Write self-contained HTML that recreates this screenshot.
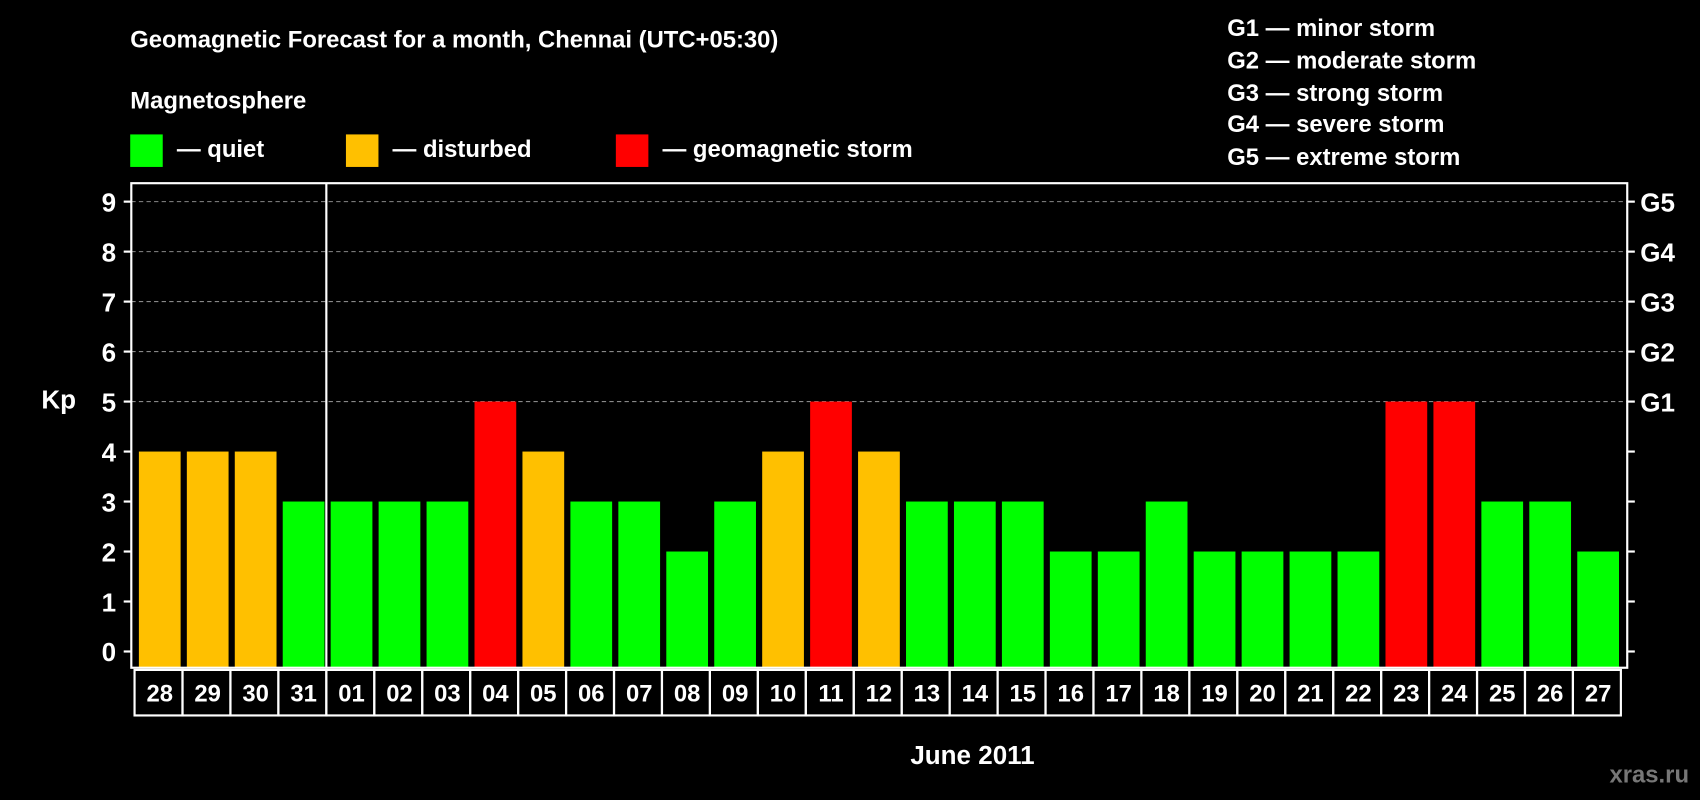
<!DOCTYPE html>
<html><head><meta charset="utf-8"><style>
html,body{margin:0;padding:0;background:#000;width:1700px;height:800px;overflow:hidden}
text{font-family:"Liberation Sans",Arial,sans-serif;font-weight:bold;fill:#fff}
</style></head><body>
<svg id="chart" width="1700" height="800" viewBox="0 0 1568 738" xmlns="http://www.w3.org/2000/svg">
<rect width="1568" height="738" fill="#000"/>
<text x="120" y="44" font-size="22">Geomagnetic Forecast for a month, Chennai (UTC+05:30)</text>
<text x="120" y="100" font-size="22">Magnetosphere</text>
<rect x="120" y="124" width="30" height="30" fill="#00ff00"/>
<text x="163" y="145" font-size="22">— quiet</text>
<rect x="319" y="124" width="30" height="30" fill="#ffc000"/>
<text x="362" y="145" font-size="22">— disturbed</text>
<rect x="568" y="124" width="30" height="30" fill="#ff0000"/>
<text x="611" y="145" font-size="22">— geomagnetic storm</text>
<g font-size="22">
<text x="1132" y="33">G1 — minor storm</text>
<text x="1132" y="63">G2 — moderate storm</text>
<text x="1132" y="93">G3 — strong storm</text>
<text x="1132" y="122">G4 — severe storm</text>
<text x="1132" y="152">G5 — extreme storm</text>
</g>
<text x="38" y="377" font-size="24">Kp</text>
<text x="897" y="705" font-size="24" text-anchor="middle">June 2011</text>
<text x="1558" y="722" font-size="22" text-anchor="end" fill="#777" style="fill:#777">xras.ru</text>
<g id="grid"></g><g id="bars"></g><g id="axes"></g>
</svg>
<script>
const days=["28","29","30","31","01","02","03","04","05","06","07","08","09","10","11","12","13","14","15","16","17","18","19","20","21","22","23","24","25","26","27"];
const kp=[4,4,4,3,3,3,3,5,4,3,3,2,3,4,5,4,3,3,3,2,2,3,2,2,2,2,5,5,3,3,2];
const yTicks=[0,1,2,3,4,5,6,7,8,9];
const gLabels=[[5,"G1"],[6,"G2"],[7,"G3"],[8,"G4"],[9,"G5"]];
const NS="http://www.w3.org/2000/svg";
const L=121,R=1501,T=169,B=616;
const y=v=>601-v*46.11;
const x=i=>128+i*44.23;
const bw=38.5;
function mk(tag,attrs,parent){const e=document.createElementNS(NS,tag);for(const k in attrs)e.setAttribute(k,attrs[k]);parent.appendChild(e);return e;}
const grid=document.getElementById('grid'),bars=document.getElementById('bars'),axes=document.getElementById('axes');
yTicks.forEach(v=>{
 if(v>=5){const gl=mk('line',{x1:L,x2:R,y1:y(v),y2:y(v),stroke:'#888','stroke-dasharray':'4,3','stroke-width':1},grid);
 
 }
 const t1=mk('line',{x1:L-7,x2:L,y1:y(v),y2:y(v),stroke:'#fff','stroke-width':2},axes);
 
 
 const t2=mk('line',{x1:R,x2:R+7,y1:y(v),y2:y(v),stroke:'#fff','stroke-width':2},axes);
 
 
 const tl=mk('text',{x:L-14,y:y(v)+9,'font-size':24,'text-anchor':'end'},axes);tl.textContent=v;
 
 
});
gLabels.forEach(([v,s])=>{const t=mk('text',{x:R+12,y:y(v)+9,'font-size':24},axes);t.textContent=s;
 
 });
kp.forEach((v,i)=>{
 const c=v>=5?'#ff0000':(v>=4?'#ffc000':'#00ff00');
 const r=mk('rect',{x:x(i),y:y(v),width:bw,height:B-y(v),fill:c},bars);
 
 
 const bx=mk('rect',{x:x(i)-4,y:B+2,width:44.23,height:42,fill:'none',stroke:'#fff','stroke-width':2},axes);
 
 
 const t=mk('text',{x:x(i)+bw/2,y:B+31,'font-size':22,'text-anchor':'middle'},axes);t.textContent=days[i];
 
 
});
const frame=mk('rect',{x:L,y:T,width:R-L,height:B-T,fill:'none',stroke:'#fff','stroke-width':2},axes);


const sep=mk('line',{x1:x(4)-4,x2:x(4)-4,y1:T,y2:B,stroke:'#fff','stroke-width':2},axes);


</script>
</body></html>
